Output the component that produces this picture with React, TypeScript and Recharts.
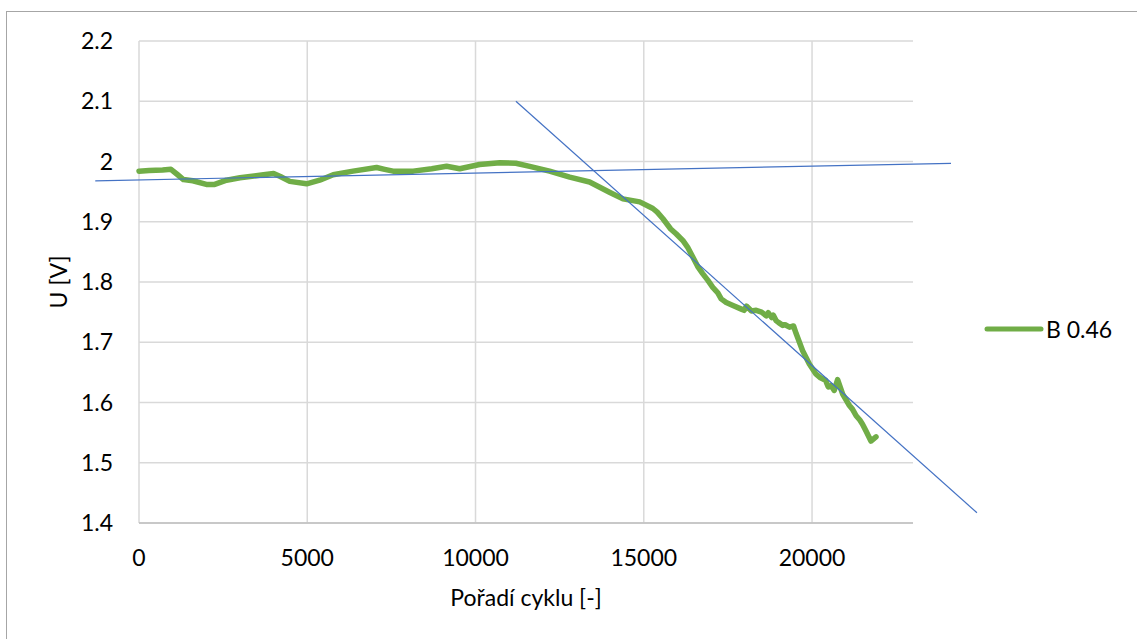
import React from 'react';
import { LineChart, Line, XAxis, YAxis, CartesianGrid, Legend, ReferenceLine } from 'recharts';

// cycle number (x) and voltage U [V] (y)
const cycles = [
  0, 300, 700, 950, 1150, 1320, 1600, 2000, 2250, 2600, 3000, 3300, 3700, 4000, 4200, 4480,
  4980, 5370, 5770, 6360, 7060, 7300, 7550, 8150, 8700, 9140, 9530, 10120, 10720, 11200,
  11610, 12200, 12800, 13390, 13980, 14380, 14880, 15270, 15400, 15570, 15800, 15960, 16160,
  16300, 16460, 16600, 16750, 16900, 17050, 17200, 17300, 17450, 17650, 17900, 17980, 18050,
  18200, 18340, 18500, 18640, 18700, 18800, 18850, 18930, 19000, 19130, 19200, 19330, 19450,
  19530, 19720, 19920, 20120, 20250, 20400, 20480, 20570, 20660, 20760, 20910, 21110, 21200,
  21310, 21420, 21500, 21600, 21750, 21900,
];
const voltage = [
  1.984, 1.985, 1.986, 1.987, 1.978, 1.97, 1.968, 1.962, 1.962, 1.969, 1.973, 1.975, 1.978, 1.98, 1.975, 1.967,
  1.963, 1.969, 1.978, 1.984, 1.99, 1.987, 1.984, 1.984, 1.988, 1.992, 1.988, 1.995, 1.998, 1.997,
  1.992, 1.984, 1.974, 1.966, 1.949, 1.938, 1.933, 1.922, 1.916, 1.905, 1.888, 1.88, 1.869,
  1.858, 1.841, 1.826, 1.814, 1.803, 1.791, 1.782, 1.772, 1.766, 1.761, 1.755, 1.753, 1.76,
  1.752, 1.753, 1.75, 1.744, 1.749, 1.741, 1.745, 1.736, 1.733, 1.728, 1.729, 1.725, 1.727,
  1.714, 1.686, 1.664, 1.647, 1.641, 1.637, 1.626, 1.628, 1.62, 1.638, 1.614, 1.595, 1.589,
  1.578, 1.571, 1.564, 1.553, 1.536, 1.543,
];

// linear trend lines (start / end points)
const trendFlat = [
  { x: -1300, y: 1.968 },
  { x: 24130, y: 1.997 },
];
const trendDrop = [
  { x: 11200, y: 2.1 },
  { x: 24900, y: 1.417 },
];

const xTicks = [0, 5000, 10000, 15000, 20000];
const yTicks = [1.4, 1.5, 1.6, 1.7, 1.8, 1.9, 2.0, 2.1, 2.2];

const seriesName = 'B 0.46';

const data = cycles.map((c, i) => ({ cycle: c, u: voltage[i] }));

const FONT = 'Lato, "Open Sans", sans-serif';
const GREEN = '#70AD47';
const BLUE = '#4472C4';

const renderLegend = (props: any) => {
  const item = props.payload?.[0];
  return (
    <div style={{ display: 'flex', alignItems: 'center', fontFamily: FONT, fontSize: 23, color: '#000' }}>
      <svg width={60} height={10} style={{ display: 'block' }}>
        <line x1={3} y1={5} x2={57} y2={5} stroke={GREEN} strokeWidth={5} strokeLinecap="round" />
      </svg>
      <span style={{ marginLeft: 2 }}>{item ? item.value : seriesName}</span>
    </div>
  );
};

export default function App() {
  return (
    <div
      style={{
        position: 'absolute',
        left: 0,
        top: 0,
        width: 1137,
        height: 639,
        overflow: 'hidden',
        background: '#fff',
        fontFamily: FONT,
      }}
    >
      {/* chart area frame */}
      <div
        style={{
          position: 'absolute',
          left: 6,
          top: 11,
          width: 1140,
          height: 640,
          border: '1px solid #A6A6A6',
          pointerEvents: 'none',
        }}
      />
      <LineChart width={1137} height={639} data={data} margin={{ top: 41, right: 224, bottom: 26, left: 0 }}>
        {/* grid only on the ticks, no line on the right edge */}
        <CartesianGrid stroke="#D9D9D9" strokeWidth={1.5} syncWithTicks />
        <XAxis
          dataKey="cycle"
          type="number"
          domain={[0, 23000]}
          ticks={xTicks}
          height={90}
          tickLine={false}
          tickSize={0}
          tickMargin={27}
          axisLine={{ stroke: '#BFBFBF', strokeWidth: 1.5 }}
          tick={{ fontSize: 23, fill: '#000', fontFamily: FONT }}
          label={{
            value: 'Pořadí cyklu [-]',
            position: 'insideBottom',
            offset: 7,
            style: { fontSize: 23, fill: '#000', fontFamily: FONT },
          }}
        />
        <YAxis
          type="number"
          domain={[1.4, 2.2]}
          ticks={yTicks}
          width={139}
          tickLine={false}
          tickSize={0}
          tickMargin={26}
          axisLine={false}
          tickFormatter={(v: number) => String(Number(v.toFixed(1)))}
          tick={{ fontSize: 23, fill: '#000', fontFamily: FONT }}
          label={{
            value: 'U [V]',
            angle: -90,
            position: 'insideLeft',
            offset: 59,
            style: { textAnchor: 'middle', fontSize: 23, fill: '#000', fontFamily: FONT },
          }}
        />
        <Legend
          layout="vertical"
          align="center"
          verticalAlign="middle"
          wrapperStyle={{ left: 984, top: 315, width: 'auto' }}
          content={renderLegend}
        />
        <Line
          type="linear"
          dataKey="u"
          name={seriesName}
          stroke={GREEN}
          strokeWidth={5.5}
          strokeLinecap="round"
          strokeLinejoin="round"
          dot={false}
          activeDot={false}
          isAnimationActive={false}
        />
        <ReferenceLine segment={trendFlat} stroke={BLUE} strokeWidth={1.2} ifOverflow="visible" />
        <ReferenceLine segment={trendDrop} stroke={BLUE} strokeWidth={1.2} ifOverflow="visible" />
      </LineChart>
    </div>
  );
}
